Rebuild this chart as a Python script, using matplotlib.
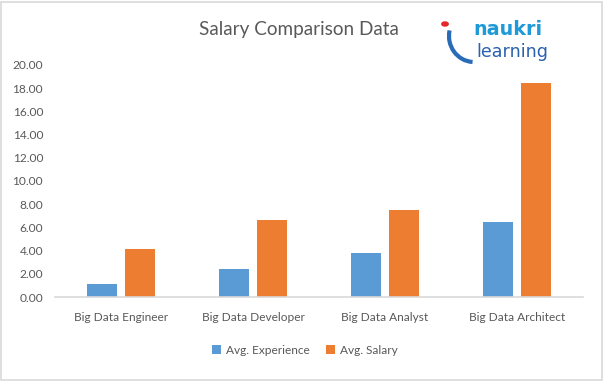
import matplotlib
matplotlib.use("Agg")
import matplotlib.pyplot as plt
import numpy as np
from matplotlib.patches import Rectangle, Circle, Arc

categories = ["Big Data Engineer", "Big Data Developer", "Big Data Analyst", "Big Data Architect"]
avg_experience = [1.15, 2.41, 3.77, 6.49]
avg_salary = [4.16, 6.64, 7.53, 18.42]
yticks = [0, 2, 4, 6, 8, 10, 12, 14, 16, 18, 20]

plt.rcParams['font.family'] = ['Lato', 'DejaVu Sans']
W, H = 604, 381
fig = plt.figure(figsize=(W/100, H/100), dpi=100)
fig.patch.set_facecolor('white')

ax = fig.add_axes([55/W, 1-297/H, 528/W, 232/H])
x = np.arange(len(categories))
bw = 0.227
off = 0.144
blue = '#5B9BD5'
orange = '#ED7D31'
ax.bar(x - off, avg_experience, bw, color=blue, label='Avg. Experience')
ax.bar(x + off, avg_salary, bw, color=orange, label='Avg. Salary')
ax.set_xlim(-0.5, len(categories)-0.5)
ax.set_ylim(0, 20)
ax.set_yticks(yticks)
ax.set_yticklabels([f"{v:.2f}" for v in yticks])
ax.set_xticks(x)
ax.set_xticklabels(categories)
for s in ['top', 'right', 'left']:
    ax.spines[s].set_visible(False)
ax.spines['bottom'].set_color('#D9D9D9')
ax.spines['bottom'].set_linewidth(1.2)
ax.tick_params(axis='both', length=0, colors='#595959', labelsize=8.6)
ax.tick_params(axis='y', pad=8.5)
ax.tick_params(axis='x', pad=11)

ax.legend(loc='center', bbox_to_anchor=(305/W, 1-350/H), bbox_transform=fig.transFigure,
          ncol=2, frameon=False, fontsize=8.6, handlelength=0.7, handleheight=0.7,
          columnspacing=1.4, handletextpad=0.45, labelcolor='#595959')

fig.text(299/W, 1-30/H, "Salary Comparison Data", ha='center', va='center',
         fontsize=13.6, color='#595959')

# logo
fig.patches.append(Circle((445/W, 1-24/H), 3.2/W, transform=fig.transFigure,
                          color='#E8262A', zorder=5))
fig.patches.append(Arc((474/W, 1-36/H), 50/W, 52/H, angle=0, theta1=160, theta2=268,
                       transform=fig.transFigure, color='#2A6BB8', lw=3.0, zorder=5))
fig.text(473/W, 1-35/H, "naukri", ha='left', va='baseline', fontsize=13.8,
         fontweight='bold', color='#1E9AD8', family='DejaVu Sans')
fig.text(476/W, 1-57/H, "learning", ha='left', va='baseline', fontsize=12.6,
         color='#2B62AE', family='DejaVu Sans')

# border
fig.patches.append(Rectangle((1/W, 1/H), (W-3)/W, (H-3)/H, transform=fig.transFigure,
                             fill=False, edgecolor='#D9D9D9', lw=1.2))

fig.savefig("out.png", dpi=100)
